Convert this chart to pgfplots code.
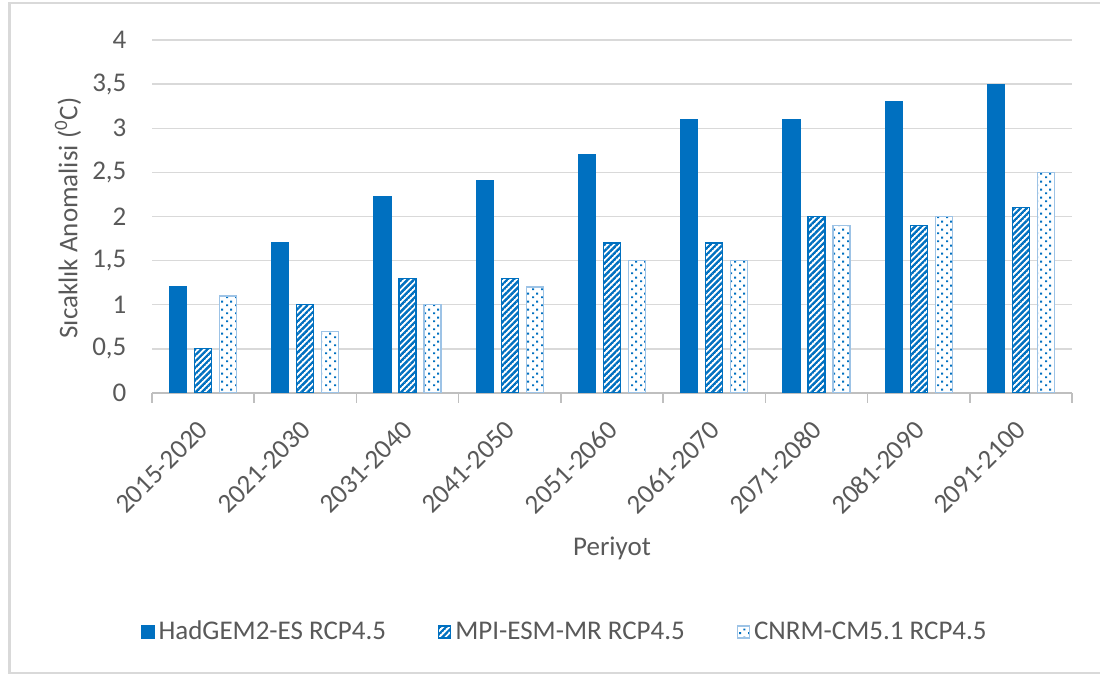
\documentclass[border=0pt]{standalone}
\usepackage{pgfplots}
\pgfplotsset{compat=1.18}
\usepackage{fontspec}
\setmainfont{Carlito}
\usetikzlibrary{patterns.meta}
\definecolor{barblue}{HTML}{0070C0}
\definecolor{lightblue}{HTML}{9DC3E6}
\definecolor{txtgray}{HTML}{595959}
\definecolor{gridgray}{HTML}{D9D9D9}
\definecolor{axgray}{HTML}{BFBFBF}

\tikzdeclarepattern{
  name=thickhatch,
  type=uncolored,
  bounding box={(0,-0.6pt) and (2.2pt,0.6pt)},
  tile size={(2.2pt,2.2pt)},
  tile transformation={rotate=45},
  code={\draw[line width=1.2pt] (0,0) -- (2.2pt,0);}
}
\tikzdeclarepattern{
  name=mydots,
  type=uncolored,
  bounding box={(0,0) and (4.5pt,4pt)},
  tile size={(4.5pt,4pt)},
  code={\fill (0.6pt,0.5pt) rectangle (1.7pt,1.5pt); \fill (2.85pt,2.5pt) rectangle (3.95pt,3.5pt);}
}

\newcommand{\fs}{\fontsize{13.5}{16}\selectfont}

\begin{document}
\begin{tikzpicture}
\path[use as bounding box] (0,0) rectangle (550pt,337.5pt);
\draw[gridgray, line width=1.3pt] (550pt,336pt) -- (4.8pt,336pt) -- (4.8pt,1pt) -- (550pt,1pt);
\begin{axis}[
  at={(76pt,141pt)}, anchor=south west,
  width=460pt, height=176.5pt, scale only axis,
  ymin=0, ymax=4, xmin=-0.5, xmax=8.5,
  ytick={0,0.5,...,4},
  ymajorgrids, grid style={gridgray, line width=0.75pt},
  axis x line=bottom, axis y line=left,
  x axis line style={-, axgray, line width=0.75pt},
  y axis line style={draw=none},
  ytick style={draw=none},
  major x tick style={draw=none},
  minor xtick={-0.5,0.5,...,8.5},
  minor x tick style={axgray, line width=0.75pt},
  minor tick length=5pt,
  tick align=outside,
  xtick={0,...,8},
  xticklabels={2015-2020,2021-2030,2031-2040,2041-2050,2051-2060,2061-2070,2071-2080,2081-2090,2091-2100},
  xticklabel style={xshift=-3pt, yshift=-8.5pt, rotate=45, anchor=north east, inner sep=0pt, font=\fs, text=txtgray},
  yticklabel style={font=\fs, text=txtgray, xshift=-5pt},
  /pgf/number format/assume math mode=true,
  /pgf/number format/use comma,
  ybar=4pt, bar width=8.5pt,
  legend columns=3,
  legend style={at={(0.45,-0.677)}, anchor=center, draw=none, font=\fs, text=txtgray,
    /tikz/every even column/.append style={column sep=24pt}},
  legend image code/.code={\draw[#1] (0pt,-3pt) rectangle (6pt,3pt);},
]
\addplot[fill=barblue, draw=barblue, line width=0.6pt] coordinates {(0,1.2) (1,1.7) (2,2.22) (3,2.41) (4,2.7) (5,3.1) (6,3.1) (7,3.3) (8,3.5)};
\addplot[fill=white, draw=barblue, line width=0.6pt, postaction={pattern=thickhatch, pattern color=barblue}] coordinates {(0,0.5) (1,1.0) (2,1.3) (3,1.3) (4,1.7) (5,1.7) (6,2.0) (7,1.9) (8,2.1)};
\addplot[fill=white, draw=lightblue, line width=0.6pt, postaction={pattern=mydots, pattern color=barblue}] coordinates {(0,1.1) (1,0.7) (2,1.0) (3,1.2) (4,1.5) (5,1.5) (6,1.9) (7,2.0) (8,2.5)};
\legend{HadGEM2-ES RCP4.5, MPI-ESM-MR RCP4.5, CNRM-CM5.1 RCP4.5}
\end{axis}
\node[rotate=90, font=\fs, text=txtgray] at (34pt,228.5pt) {Sıcaklık Anomalisi (\textsuperscript{0}C)};
\node[font=\fs, text=txtgray] at (306pt,63.5pt) {Periyot};
\end{tikzpicture}
\end{document}
